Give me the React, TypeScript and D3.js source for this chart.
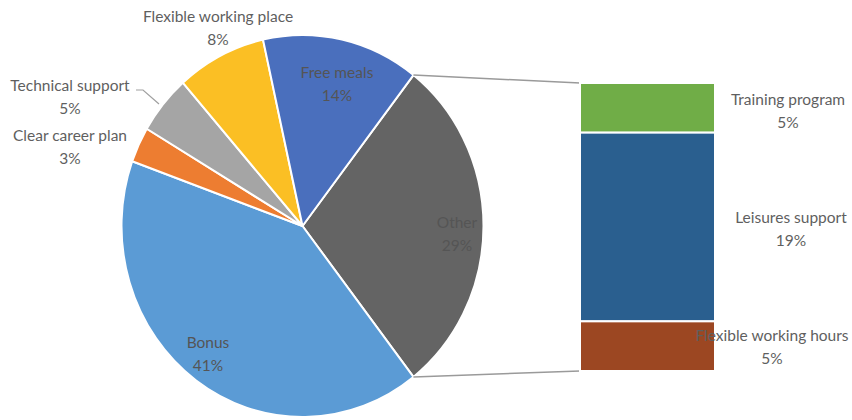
import React from "react";
import * as d3 from "d3";

const pieLabels = ["Other", "Bonus", "Clear career plan", "Technical support", "Flexible working place", "Free meals"];
const pieValues = [29, 41, 3, 5, 8, 14];
const pieColors = ["#646464", "#5b9bd5", "#ed7d31", "#a5a5a5", "#fbbf24", "#4a6fbd"];

const barLabels = ["Training program", "Leisures support", "Flexible working hours"];
const barValues = [5, 19, 5];
const barColors = ["#70ad47", "#2a5f8f", "#9c4722"];

const W = 852, H = 420;
const cx = 302.5, cy = 226, rx = 181, ry = 191;

const pieLabelPos: Record<string, { x: number; y: number }> = {
  Other: { x: 457, y: 233 },
  Bonus: { x: 208, y: 353 },
  "Clear career plan": { x: 70, y: 146 },
  "Technical support": { x: 70, y: 96 },
  "Flexible working place": { x: 218, y: 27 },
  "Free meals": { x: 337, y: 83 },
};
const barLabelPos = [
  { x: 788, y: 110 },
  { x: 791, y: 228 },
  { x: 772, y: 346 },
];

export default function App() {
  const total = d3.sum(pieValues);
  const otherShare = pieValues[0] / total;
  const start = Math.PI / 2 - otherShare * Math.PI;
  const pie = d3
    .pie<number>()
    .sort(null)
    .value((d) => d)
    .startAngle(start)
    .endAngle(start + 2 * Math.PI);
  const arcs = pie(pieValues);
  const arc = d3.arc<d3.PieArcDatum<number>>().innerRadius(0).outerRadius(rx);
  const sy = ry / rx;

  const pt = (a: number) => ({ x: cx + rx * Math.sin(a), y: cy - ry * Math.cos(a) });
  const pTop = pt(arcs[0].startAngle);
  const pBot = pt(arcs[0].endAngle);

  const barX0 = 580, barX1 = 715;
  const yScale = d3.scaleLinear().domain([0, d3.sum(barValues)]).range([83, 371]);
  let acc = 0;
  const bars = barValues.map((v, i) => {
    const y0 = yScale(acc);
    acc += v;
    const y1 = yScale(acc);
    return { y0, y1, color: barColors[i], label: barLabels[i], v };
  });

  const font = "Lato, 'Open Sans', sans-serif";
  const fs = 15.5;
  const lineGap = 23;

  const label = (x: number, y: number, l1: string, l2: string, fill = "#5f5f5f", key?: string) => (
    <g key={key} fontFamily={font} fontSize={fs} fill={fill} textAnchor="middle">
      <text x={x} y={y - lineGap / 2} dominantBaseline="central">{l1}</text>
      <text x={x} y={y + lineGap / 2} dominantBaseline="central">{l2}</text>
    </g>
  );

  return (
    <svg width={W} height={H} style={{ position: "absolute", left: 0, top: 0, background: "#fff" }}>
      <g transform={`translate(${cx},${cy}) scale(1,${sy})`}>
        {arcs.map((a, i) => (
          <path
            key={i}
            d={arc(a) || ""}
            fill={pieColors[i]}
            stroke="#fff"
            strokeWidth={2}
            vectorEffect="non-scaling-stroke"
            strokeLinejoin="round"
          />
        ))}
      </g>
      <line x1={pTop.x} y1={pTop.y} x2={barX0} y2={yScale(0)} stroke="#9a9a9a" strokeWidth={1.5} />
      <line x1={pBot.x} y1={pBot.y} x2={barX0} y2={yScale(d3.sum(barValues))} stroke="#9a9a9a" strokeWidth={1.5} />
      {bars.map((b, i) => (
        <rect key={i} x={barX0} y={b.y0} width={barX1 - barX0} height={b.y1 - b.y0} fill={b.color} stroke="#fff" strokeWidth={2} />
      ))}
      <polyline points="136,90 143,90 159,104" fill="none" stroke="#a0a0a0" strokeWidth={1.2} />
      {pieLabels.map((l, i) => {
        const p = pieLabelPos[l];
        const inside = l === "Other" || l === "Bonus" || l === "Free meals";
        return label(p.x, p.y, l, `${pieValues[i]}%`, inside ? "#555" : "#5f5f5f", l);
      })}
      {bars.map((b, i) => label(barLabelPos[i].x, barLabelPos[i].y, b.label, `${b.v}%`, "#5f5f5f", "b" + i))}
    </svg>
  );
}
